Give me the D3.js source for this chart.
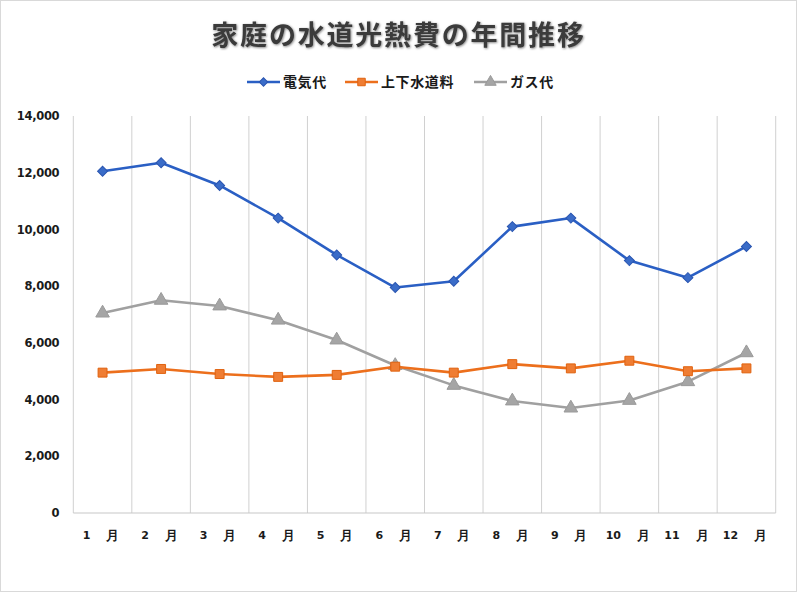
<!DOCTYPE html>
<html><head><meta charset="utf-8">
<script src="https://cdn.jsdelivr.net/npm/d3@7"></script>
<style>
html,body{margin:0;padding:0;background:#fff;}
svg{display:block;font-family:"Noto Sans CJK JP","Noto Sans",sans-serif;}
</style></head>
<body>
<script>
const months = ["1","2","3","4","5","6","7","8","9","10","11","12"];
const electricity = [12050,12350,11550,10400,9100,7950,8170,10100,10400,8900,8300,9400];
const water = [4950,5080,4900,4800,4870,5160,4950,5250,5100,5370,5000,5100];
const gas = [7050,7500,7300,6800,6100,5200,4500,3950,3700,3970,4630,5650];
const yTicks = [0,2000,4000,6000,8000,10000,12000,14000];
const seriesNames = ["電気代","上下水道料","ガス代"];
const monthSuffix = "月";
const title = "家庭の水道光熱費の年間推移";

const W=797,H=592;
const m={l:73.3,r:797-775.7,t:116,b:592-513};
const svg=d3.select("body").append("svg").attr("width",W).attr("height",H);
const defs=svg.append("defs");
const f=defs.append("filter").attr("id","sh").attr("x","-10%").attr("y","-30%").attr("width","120%").attr("height","160%");
f.append("feDropShadow").attr("dx",0.8).attr("dy",0.8).attr("stdDeviation",1).attr("flood-color","#000").attr("flood-opacity",0.5);

svg.append("rect").attr("x",0.5).attr("y",0.5).attr("width",W-1).attr("height",H-1).attr("fill","#fff").attr("stroke","#d9d9d9");

const x=d3.scaleBand().domain(months).range([m.l,W-m.r]);
const y=d3.scaleLinear().domain([0,14000]).range([H-m.b,m.t]);

// vertical gridlines at category boundaries
const bounds=months.map(d=>x(d)).concat([x.range()[1]]);
svg.append("g").selectAll("line").data(bounds).join("line")
  .attr("x1",d=>d).attr("x2",d=>d).attr("y1",y(14000)).attr("y2",y(0))
  .attr("stroke","#d0d0d0").attr("stroke-width",1);
svg.append("line").attr("x1",x.range()[0]).attr("x2",x.range()[1]).attr("y1",y(0)).attr("y2",y(0))
  .attr("stroke","#c8c8c8").attr("stroke-width",1.2);

// y axis labels
const ya=svg.append("g").attr("transform",`translate(${m.l},0)`)
  .call(d3.axisLeft(y).tickValues(yTicks).tickSize(0).tickPadding(14).tickFormat(d3.format(",")));
ya.select(".domain").remove();
ya.selectAll("text").attr("font-size",11.5).attr("font-weight","bold").attr("fill","#1a1a1a")
  .attr("font-family","'DejaVu Sans',sans-serif").attr("letter-spacing",-0.3);

// x axis labels: number and 月 separated
const xa=svg.append("g").attr("transform",`translate(0,${y(0)})`)
  .call(d3.axisBottom(x).tickSize(0).tickPadding(18).tickFormat(d=>d));
xa.select(".domain").remove();
xa.selectAll(".tick text").attr("font-size",11).attr("font-weight","bold").attr("fill","#1a1a1a")
  .attr("font-family","'DejaVu Sans',sans-serif").attr("x",-16);
xa.selectAll(".tick").each(function(d){
  d3.select(this).append("text").attr("x",10+(d.length-1)*4.5).attr("y",18).attr("dy","0.71em")
    .attr("text-anchor","middle").attr("font-size",12.5).attr("font-weight","bold").attr("fill","#1a1a1a")
    .text(monthSuffix);
});

const cx=d=>x(d)+x.bandwidth()/2;
const series=[
  {name:seriesNames[0],vals:electricity,color:"#2a5fc4",mfill:"#3a6cc8",mstroke:"#2a55b0",shape:d3.symbolSquare,size:50,rot:45},
  {name:seriesNames[1],vals:water,color:"#ec6f1c",mfill:"#ef7d33",mstroke:"#e0620f",shape:d3.symbolSquare,size:80,rot:0},
  {name:seriesNames[2],vals:gas,color:"#a0a0a0",mfill:"#a5a5a5",mstroke:"#9a9a9a",shape:d3.symbolTriangle,size:80,rot:0}
];
const line=d3.line().x((d,i)=>cx(months[i])).y(d=>y(d));
[2,1,0].forEach(k=>{
  const s=series[k];
  const g=svg.append("g");
  g.append("path").attr("d",line(s.vals)).attr("fill","none").attr("stroke",s.color).attr("stroke-width",2.6).attr("stroke-linejoin","round");
  g.selectAll("path.m").data(s.vals).join("path").attr("class","m")
    .attr("transform",(d,i)=>`translate(${cx(months[i])},${y(d)}) rotate(${s.rot})`)
    .attr("d",d3.symbol().type(s.shape).size(s.size)).attr("fill",s.mfill).attr("stroke",s.mstroke).attr("stroke-width",1);
});

// title
svg.append("text").attr("x",398.5).attr("y",45).attr("text-anchor","middle")
  .attr("font-size",27).attr("font-weight","bold").attr("fill","#3a3a3a").attr("letter-spacing",1.8)
  .attr("filter","url(#sh)").text(title);

// legend
const legX=[247,345,474];
series.forEach((s,i)=>{
  const g=svg.append("g").attr("transform",`translate(${legX[i]},82)`);
  g.append("line").attr("x1",0).attr("x2",33).attr("stroke",s.color).attr("stroke-width",2.6);
  g.append("path").attr("transform",`translate(16.5,0) rotate(${s.rot})`).attr("d",d3.symbol().type(s.shape).size(s.size*0.7))
    .attr("fill",s.mfill).attr("stroke",s.mstroke).attr("stroke-width",1);
  g.append("text").attr("x",36).attr("y",5).attr("font-size",14).attr("font-weight","bold")
    .attr("fill","#1a1a1a").attr("letter-spacing",0.6).text(s.name);
});
</script>
</body></html>
